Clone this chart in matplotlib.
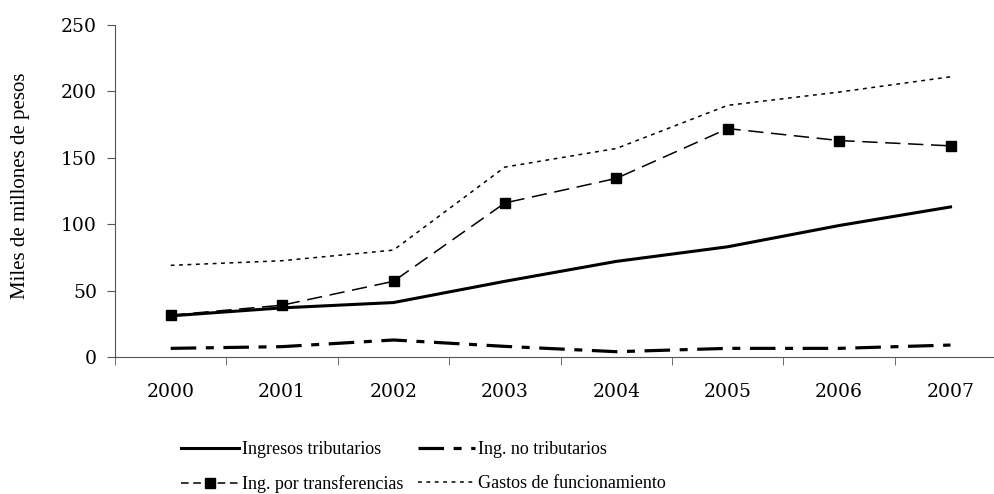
import matplotlib
matplotlib.use("Agg")
import matplotlib.pyplot as plt
import numpy as np
from matplotlib.lines import Line2D

years = ["2000", "2001", "2002", "2003", "2004", "2005", "2006", "2007"]
ingresos_tributarios = [31, 37, 41, 57, 72, 83, 99, 113]
ing_no_tributarios = [6.5, 7.8, 12.8, 8, 4, 6.5, 6.5, 9]
ing_transferencias = [31.5, 39, 57, 116, 134.5, 172, 163, 159]
gastos_funcionamiento = [69, 72.5, 80.5, 143, 157, 189.5, 199.5, 211]

fig = plt.figure(figsize=(9.94, 4.94), dpi=100)
ax = fig.add_axes([115/994, 1-357/494, 1-115/994, (357-25)/494])

x = np.arange(len(years))
st_trib = dict(color="black", lw=2.2)
st_notrib = dict(color="black", lw=2.3, dashes=(8, 3, 2.5, 3))
st_transf = dict(color="black", lw=1.1, dashes=(10, 5), marker="s", markersize=7.5)
st_gastos = dict(color="black", lw=1.1, dashes=(2.5, 3))

ax.plot(x, ingresos_tributarios, **st_trib)
ax.plot(x, ing_no_tributarios, **st_notrib)
ax.plot(x, ing_transferencias, **st_transf)
ax.plot(x, gastos_funcionamiento, **st_gastos)

ax.set_xlim(-0.5, -0.5 + (994-115)/111.4)
ax.set_ylim(0, 250)
ax.set_yticks([0, 50, 100, 150, 200, 250])
ax.set_xticks(x)
ax.set_xticklabels(years)
ax.set_xticks(np.arange(len(years)) - 0.5, minor=True)
ax.tick_params(axis="x", which="major", length=0, pad=19, labelsize=13.5)
ax.tick_params(axis="x", which="minor", length=6, direction="out", color="#555555")
ax.tick_params(axis="y", length=6, direction="out", color="#555555", labelsize=13.5, pad=7)
for lab in ax.get_xticklabels() + ax.get_yticklabels():
    lab.set_family("DejaVu Serif")
ax.spines["top"].set_visible(False)
ax.spines["right"].set_visible(False)
ax.spines["left"].set_color("#555555")
ax.spines["bottom"].set_color("#555555")
ax.set_ylabel("Miles de millones de pesos", family="Liberation Serif", fontsize=15)
ax.yaxis.set_label_coords((30-115)/879, (357-186)/332)

handles = [
    Line2D([], [], **st_trib),
    Line2D([], [], **{**st_transf, "dashes": (5, 3)}),
    Line2D([], [], **st_notrib),
    Line2D([], [], **st_gastos),
]
labels = ["Ingresos tributarios", "Ing. por transferencias",
          "Ing. no tributarios", "Gastos de funcionamiento"]
fig.legend(handles, labels, loc="center left", bbox_to_anchor=(165/994, 1-467/494),
           ncol=2, frameon=False, prop={"family": "Liberation Serif", "size": 13},
           handlelength=3.2, handletextpad=0.15, columnspacing=0.8, labelspacing=0.95)

fig.savefig("out.png", dpi=100)
